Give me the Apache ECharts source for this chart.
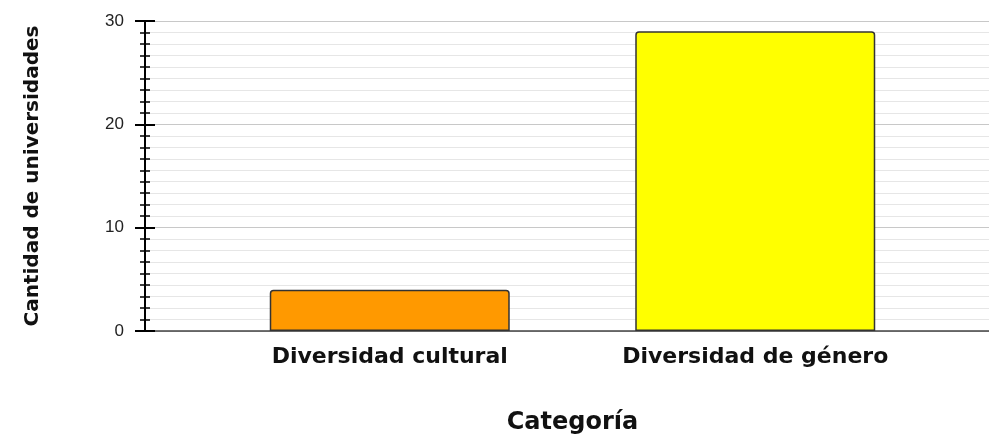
<!DOCTYPE html>
<html>
<head>
<meta charset="utf-8">
<script src="https://cdn.jsdelivr.net/npm/echarts@6/dist/echarts.min.js"></script>
<style>
html,body{margin:0;padding:0;background:#fff;}
#chart{width:989px;height:434px;}
</style>
</head>
<body>
<div id="chart"></div>
<script>
const categories = ['Diversidad cultural', 'Diversidad de género'];
const values = [4, 29];
const barColors = ['#FF9900', '#FFFF00'];
const yMin = 0, yMax = 30, yInterval = 10;
const xAxisName = 'Categoría';
const yAxisName = 'Cantidad de universidades';

const chart = echarts.init(document.getElementById('chart'), null, {renderer: 'canvas'});

const option = {
  animation: false,
  backgroundColor: '#ffffff',
  grid: [
    {left: 145, right: 0, top: 21, bottom: 103, outerBoundsMode: 'none', containLabel: false},
    {left: 207, right: 51, top: 21, bottom: 103, outerBoundsMode: 'none', containLabel: false}
  ],
  xAxis: [
    {
      type: 'value', gridIndex: 0, min: 0, max: 1,
      axisLine: {show: true, onZero: false, lineStyle: {color: '#444', width: 1.5}},
      axisTick: {show: false}, axisLabel: {show: false}, splitLine: {show: false}
    },
    {
      type: 'category', gridIndex: 1, data: categories,
      axisLine: {show: false}, axisTick: {show: false},
      axisLabel: {margin: 15, color: '#111', fontFamily: 'DejaVu Sans', fontWeight: 'bold', fontSize: 22},
      name: xAxisName, nameLocation: 'middle', nameGap: 80,
      nameTextStyle: {color: '#111', fontFamily: 'DejaVu Sans', fontWeight: 'bold', fontSize: 24}
    }
  ],
  yAxis: [
    {
      type: 'value', gridIndex: 0, position: 'left', min: yMin, max: yMax, interval: yInterval,
      axisLine: {show: true, lineStyle: {color: '#000', width: 2}},
      axisTick: {show: true, length: 10, lineStyle: {color: '#000', width: 2}},
      minorTick: {show: true, splitNumber: 9, length: 5, lineStyle: {color: '#000', width: 1.5}},
      splitLine: {show: true, lineStyle: {color: '#c8c8c8', width: 1}},
      minorSplitLine: {show: true, lineStyle: {color: '#e6e6e6', width: 1}},
      axisLabel: {margin: 21, color: '#222', fontFamily: 'Liberation Sans', fontSize: 17},
      name: yAxisName, nameLocation: 'middle', nameGap: 102,
      nameTextStyle: {color: '#111', fontFamily: 'DejaVu Sans', fontWeight: 'bold', fontSize: 20}
    },
    {
      type: 'value', gridIndex: 0, position: 'left', min: yMin, max: yMax, interval: yInterval,
      axisLine: {show: false},
      axisTick: {show: true, inside: true, length: 10, lineStyle: {color: '#000', width: 2}},
      minorTick: {show: true, splitNumber: 9, length: 5, lineStyle: {color: '#000', width: 1.5}},
      splitLine: {show: false}, axisLabel: {show: false}
    },
    {
      type: 'value', gridIndex: 1, min: yMin, max: yMax, interval: yInterval, show: false,
      splitLine: {show: false}
    }
  ],
  series: [
    {
      type: 'bar', xAxisIndex: 1, yAxisIndex: 2,
      barWidth: 240,
      data: values.map((v, i) => ({
        value: v,
        itemStyle: {color: barColors[i], borderColor: '#333', borderWidth: 1.5, borderRadius: [3, 3, 0, 0]}
      }))
    }
  ]
};
chart.setOption(option);
</script>
</body>
</html>
